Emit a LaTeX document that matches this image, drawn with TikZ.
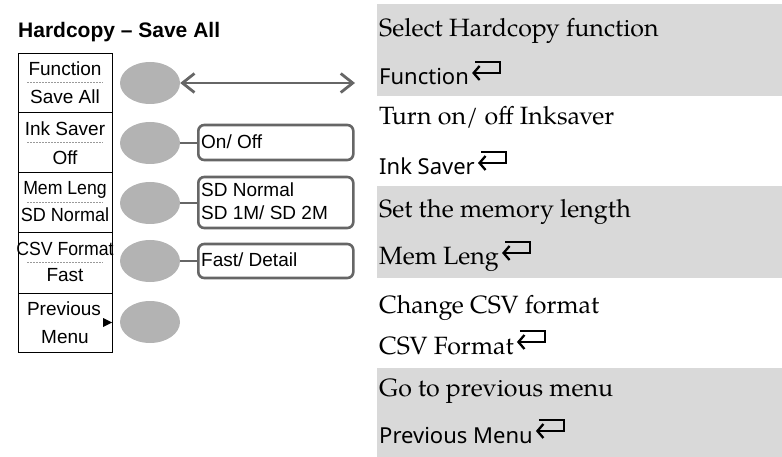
\documentclass[tikz,border=0pt]{standalone}
\usepackage{fontspec}
\setmainfont{Liberation Sans}
\newfontfamily\palfont[Extension=.otf,UprightFont=*-regular]{texgyrepagella}
\newfontfamily\uifont{Noto Sans}
\usetikzlibrary{arrows.meta,shapes.geometric,calc}
\definecolor{bandgray}{HTML}{D9D9D9}
\definecolor{btngray}{HTML}{B3B3B3}
\definecolor{edgegray}{HTML}{666666}
\definecolor{dotgray}{HTML}{9A9A9A}
\tikzset{
  menutxt/.style={font=\fontsize{19}{22}\selectfont, inner sep=0pt, anchor=base},
  btn/.style={ellipse, fill=btngray, minimum width=60pt, minimum height=42pt, inner sep=0pt},
  optbox/.style={draw=edgegray, line width=2.6pt, rounded corners=6pt, minimum width=155pt, inner sep=0pt, anchor=west},
  opttxt/.style={font=\fontsize{19}{22}\selectfont, inner sep=0pt, anchor=base west},
  conn/.style={draw=edgegray, line width=2.8pt},
  desc/.style={font=\palfont\fontsize{25}{28}\selectfont, inner sep=0pt, anchor=base west},
  keyserif/.style={font=\palfont\fontsize{25}{28}\selectfont, inner sep=0pt, anchor=base west},
  keysans/.style={font=\uifont\fontsize{22}{26}\selectfont, inner sep=0pt, anchor=base west},
  retsym/.style={line width=2.3pt, -{Straight Barb[length=6pt,width=14pt,line width=2.3pt]}},
  divider/.style={line width=1pt},
  dotsep/.style={draw=dotgray, line width=0.8pt, dash pattern=on 1.5pt off 1.5pt}
}
\newcommand{\retmark}[1]{%
  \draw[retsym] ($(#1.base east)+(6,-23)$) -- ++(25,0) -- ++(0,11) -- ($(#1.base east)+(3,-12)$);}
\begin{document}
\begin{tikzpicture}[x=1pt,y=-1pt]
\useasboundingbox (0,0) rectangle (782,457);
% right bands
\fill[bandgray] (377,4) rectangle (782,96);
\fill[bandgray] (377,186) rectangle (782,278);
\fill[bandgray] (377,368) rectangle (782,457);
% title
\node[font=\bfseries\fontsize{21}{24}\selectfont, inner sep=0pt, anchor=base west] (title) at (18,38) {Hardcopy -- Save All};
% menu box
\node[draw, line width=1.3pt, minimum width=94pt, minimum height=299pt, inner sep=0pt, anchor=north west] (menu) at (18,53) {};
\foreach \yy in {113,173,233,293} {\draw[divider] (18,\yy) -- (112,\yy);}
\foreach \yy in {82,142,202,262} {\draw[dotsep] (27,\yy) -- (103,\yy);}
\node[menutxt] (m1a) at (65,76) {Function};
\node[menutxt] (m1b) at (65,104) {Save All};
\node[menutxt] (m2a) at (65,136) {Ink Saver};
\node[menutxt] (m2b) at (65,165) {Off};
\node[menutxt] (m3a) at (65,195) {\scalebox{0.93}[1]{Mem Leng}};
\node[menutxt] (m3b) at (65,222) {\scalebox{0.95}[1]{SD Normal}};
\node[menutxt] (m4a) at (65,256) {\scalebox{0.93}[1]{CSV Format}};
\node[menutxt] (m4b) at (65,282) {Fast};
\node[menutxt] (m5a) at (64,315) {Previous};
\node[menutxt] (m5b) at (65,343) {Menu};
\fill (103,318) -- (112,322.5) -- (103,327) -- cycle;
% buttons
\node[btn] (b1) at (150,83) {};
\node[btn] (b2) at (150,143) {};
\node[btn] (b3) at (150,203) {};
\node[btn] (b4) at (150,261) {};
\node[btn] (b5) at (150,322) {};
% double arrow
\coordinate (arrEnd) at (355,83);
\draw[conn, {Straight Barb[length=12pt,width=19pt,line width=2.8pt]}-{Straight Barb[length=12pt,width=19pt,line width=2.8pt]}] (b1.east) -- (arrEnd);
% option boxes
\node[optbox, minimum height=35pt] (o1) at (197,142.5) {};
\node[optbox, minimum height=51pt] (o2) at (197,202.5) {};
\node[optbox, minimum height=34pt] (o3) at (197,261) {};
\node[opttxt] (o1t) at (201,149) {On/ Off};
\node[opttxt] (o2t) at (201,197) {SD Normal};
\node[opttxt] (o2u) at (201,220) {SD 1M/ SD 2M};
\node[opttxt] (o3t) at (201,267) {Fast/ Detail};
\draw[conn] (b2.east) -- (b2.east -| o1.west);
\draw[conn] (b3.east) -- (b3.east -| o2.west);
\draw[conn] (b4.east) -- (b4.east -| o3.west);
% descriptions
\node[desc] (d1) at (379,37) {Select Hardcopy function};
\node[keysans] (k1) at (379,85) {Function};
\retmark{k1}
\node[desc] (d2) at (379,125) {Turn on/ off Inksaver};
\node[keysans] (k2) at (379,175) {Ink Saver};
\retmark{k2}
\node[desc] (d3) at (379,218) {Set the memory length};
\node[keyserif] (k3) at (379,265) {Mem Leng};
\retmark{k3}
\node[desc] (d4) at (379,313) {Change CSV format};
\node[keyserif] (k4) at (379,354) {CSV Format};
\retmark{k4}
\node[desc] (d5) at (379,396) {Go to previous menu};
\node[keysans] (k5) at (379,443) {Previous Menu};
\retmark{k5}
\end{tikzpicture}
\end{document}
